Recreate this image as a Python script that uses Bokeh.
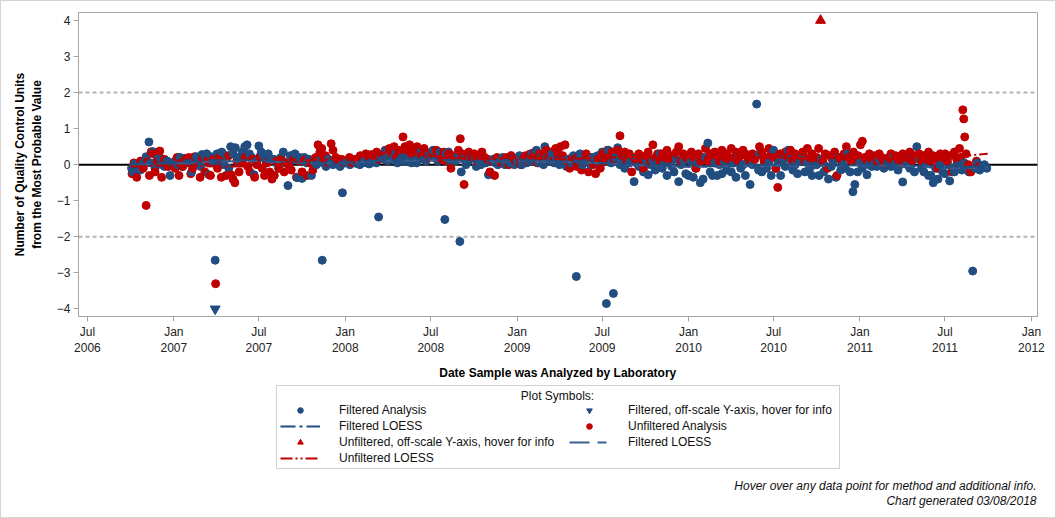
import math
import pandas as pd
from bokeh.plotting import figure
from bokeh.layouts import column
from bokeh.models import (ColumnDataSource, Range1d, FixedTicker, DatetimeTickFormatter,
                          Span, Legend, LegendItem, Label)
from bokeh.embed import file_html
from bokeh.resources import INLINE

BLUE = "#214d80"
BLUE2 = "#3d5f8f"
RED = "#c00000"
FONT = "Liberation Sans"
DASH_F = "15 4 3 4"
DASH_F2 = "20 8 9 8"
DASH_U = "12 3 2 3 2 3"

# ---------------- data ----------------
filtered_dates = [
    "2006-10-03", "2006-10-06", "2006-10-10", "2006-10-16", "2006-10-22", "2006-10-28",
    "2006-11-03", "2006-11-09", "2006-11-12", "2006-11-18", "2006-11-22", "2006-11-27",
    "2006-12-02", "2006-12-07", "2006-12-12", "2006-12-18", "2006-12-24", "2006-12-29",
    "2007-01-04", "2007-01-09", "2007-01-14", "2007-01-19", "2007-01-24", "2007-01-29",
    "2007-02-03", "2007-02-08", "2007-02-13", "2007-02-18", "2007-02-23", "2007-02-27",
    "2007-03-02", "2007-03-07", "2007-03-12", "2007-03-17", "2007-03-22", "2007-03-27", "2007-03-30",
    "2007-04-03", "2007-04-08", "2007-04-13", "2007-04-18", "2007-04-23", "2007-04-28",
    "2007-05-02", "2007-05-07", "2007-05-12", "2007-05-17", "2007-05-22", "2007-05-27",
    "2007-06-01", "2007-06-06", "2007-06-11", "2007-06-16", "2007-06-21", "2007-06-26",
    "2007-07-01", "2007-07-06", "2007-07-11", "2007-07-16", "2007-07-21", "2007-07-27",
    "2007-08-02", "2007-08-07", "2007-08-12", "2007-08-17", "2007-08-22", "2007-08-27",
    "2007-09-01", "2007-09-06", "2007-09-11", "2007-09-16", "2007-09-21", "2007-09-26",
    "2007-10-01", "2007-10-06", "2007-10-11", "2007-10-16", "2007-10-21", "2007-10-26",
    "2007-11-01", "2007-11-06", "2007-11-13", "2007-11-16", "2007-11-21", "2007-11-26",
    "2007-12-01", "2007-12-06", "2007-12-11", "2007-12-16", "2007-12-21", "2007-12-26",
    "2008-01-01", "2008-01-06", "2008-01-11", "2008-01-16", "2008-01-21", "2008-01-26",
    "2008-02-01", "2008-02-06", "2008-02-11", "2008-02-16", "2008-02-21", "2008-02-26",
    "2008-03-02", "2008-03-07", "2008-03-12", "2008-03-17", "2008-03-22", "2008-03-27",
    "2008-04-01", "2008-04-06", "2008-04-11", "2008-04-16", "2008-04-21", "2008-04-26",
    "2008-05-01", "2008-05-06", "2008-05-11", "2008-05-16", "2008-05-21", "2008-05-26",
    "2008-06-01", "2008-06-06", "2008-06-11", "2008-06-16", "2008-06-21", "2008-06-26",
    "2008-07-01", "2008-07-06", "2008-07-11", "2008-07-16", "2008-07-21", "2008-07-31",
    "2008-08-03", "2008-08-08", "2008-08-13", "2008-08-18", "2008-08-23", "2008-08-28",
    "2008-09-01", "2008-09-04", "2008-09-09", "2008-09-14", "2008-09-19", "2008-09-24",
    "2008-10-01", "2008-10-06", "2008-10-11", "2008-10-16", "2008-10-21", "2008-10-26",
    "2008-11-01", "2008-11-06", "2008-11-11", "2008-11-16", "2008-11-21", "2008-11-26",
    "2008-12-01", "2008-12-06", "2008-12-11", "2008-12-16", "2008-12-21", "2008-12-26",
    "2009-01-01", "2009-01-06", "2009-01-11", "2009-01-16", "2009-01-21", "2009-01-26",
    "2009-02-01", "2009-02-06", "2009-02-11", "2009-02-16", "2009-02-21", "2009-02-26",
    "2009-03-01", "2009-03-06", "2009-03-11", "2009-03-16", "2009-03-21", "2009-03-26",
    "2009-04-01", "2009-04-06", "2009-04-11", "2009-04-16", "2009-04-21", "2009-04-26",
    "2009-05-01", "2009-05-07", "2009-05-10", "2009-05-15", "2009-05-20", "2009-05-25",
    "2009-06-01", "2009-06-06", "2009-06-11", "2009-06-16", "2009-06-21", "2009-06-26",
    "2009-07-01", "2009-07-05", "2009-07-10", "2009-07-14", "2009-07-20", "2009-07-25", "2009-07-29",
    "2009-08-03", "2009-08-08", "2009-08-13", "2009-08-18", "2009-08-23", "2009-08-28",
    "2009-09-02", "2009-09-07", "2009-09-12", "2009-09-17", "2009-09-22", "2009-09-27",
    "2009-10-02", "2009-10-07", "2009-10-12", "2009-10-17", "2009-10-22", "2009-10-27",
    "2009-11-01", "2009-11-06", "2009-11-11", "2009-11-16", "2009-11-21", "2009-11-26",
    "2009-12-01", "2009-12-06", "2009-12-11", "2009-12-16", "2009-12-21", "2009-12-26",
    "2010-01-01", "2010-01-06", "2010-01-11", "2010-01-16", "2010-01-21", "2010-01-26",
    "2010-02-01", "2010-02-06", "2010-02-11", "2010-02-16", "2010-02-21", "2010-02-26",
    "2010-03-03", "2010-03-08", "2010-03-13", "2010-03-18", "2010-03-23", "2010-03-28",
    "2010-04-02", "2010-04-07", "2010-04-12", "2010-04-17", "2010-04-22", "2010-04-27",
    "2010-05-02", "2010-05-07", "2010-05-12", "2010-05-17", "2010-05-26", "2010-05-30",
    "2010-06-01", "2010-06-06", "2010-06-11", "2010-06-16", "2010-06-21", "2010-06-26",
    "2010-07-01", "2010-07-06", "2010-07-11", "2010-07-16", "2010-07-21", "2010-07-26",
    "2010-08-01", "2010-08-06", "2010-08-11", "2010-08-16", "2010-08-21", "2010-08-26",
    "2010-09-01", "2010-09-06", "2010-09-11", "2010-09-16", "2010-09-21", "2010-09-26",
    "2010-10-01", "2010-10-06", "2010-10-11", "2010-10-16", "2010-10-21", "2010-10-26",
    "2010-11-01", "2010-11-06", "2010-11-11", "2010-11-16", "2010-11-21", "2010-11-26",
    "2010-12-01", "2010-12-06", "2010-12-11", "2010-12-17", "2010-12-21", "2010-12-27",
    "2011-01-01", "2011-01-06", "2011-01-11", "2011-01-16", "2011-01-21", "2011-01-26",
    "2011-02-01", "2011-02-06", "2011-02-11", "2011-02-16", "2011-02-21", "2011-02-26",
    "2011-03-03", "2011-03-08", "2011-03-13", "2011-03-18", "2011-03-23", "2011-03-28",
    "2011-04-02", "2011-04-07", "2011-04-12", "2011-04-17", "2011-04-22", "2011-04-27",
    "2011-05-02", "2011-05-07", "2011-05-12", "2011-05-17", "2011-05-22", "2011-05-27",
    "2011-06-01", "2011-06-06", "2011-06-11", "2011-06-16", "2011-06-21", "2011-06-26",
    "2011-07-01", "2011-07-06", "2011-07-11", "2011-07-16", "2011-07-21", "2011-07-26",
    "2011-08-01", "2011-08-06", "2011-08-11", "2011-08-16", "2011-08-21", "2011-08-29",
    "2011-09-03", "2011-09-08", "2011-09-13", "2011-09-18", "2011-09-23", "2011-09-28",
]
filtered_values = [
    -0.10, -0.20, 0.02, -0.05, -0.15, 0.05,
    0.22, 0.63, 0.05, 0.36, -0.10, 0.15,
    0.20, 0.00, -0.05, 0.10, -0.30, 0.05,
    0.10, 0.00, 0.20, -0.05, 0.18, 0.05,
    0.05, -0.20, 0.10, 0.22, 0.15, -0.05,
    0.28, 0.25, 0.30, -0.28, 0.22, 0.05, -2.65,
    0.30, 0.10, 0.35, 0.00, 0.25, -0.10,
    0.50, 0.30, 0.47, 0.20, 0.10, 0.35,
    0.50, 0.55, 0.30, 0.20, -0.28, 0.10,
    0.52, 0.35, 0.25, 0.10, 0.30, 0.15,
    0.15, 0.05, -0.10, 0.20, 0.35, 0.05,
    -0.58, 0.25, 0.15, 0.30, -0.36, 0.20,
    -0.38, 0.20, 0.05, 0.15, -0.30, 0.10,
    0.00, 0.10, -2.65, 0.05, -0.05, 0.15,
    0.05, 0.00, 0.10, 0.05, -0.05, -0.78,
    0.05, 0.10, 0.00, 0.05, 0.08, 0.03,
    0.00, 0.05, 0.10, 0.05, 0.02, 0.08,
    0.08, 0.05, -1.45, 0.20, 0.15, 0.40,
    0.10, 0.20, 0.15, 0.30, 0.05, 0.12,
    0.20, 0.10, 0.25, 0.15, 0.05, 0.10,
    0.05, 0.20, 0.35, 0.15, 0.10, 0.25,
    0.30, 0.40, 0.20, 0.10, 0.35, -1.52,
    0.30, 0.35, 0.05, 0.20, 0.10, 0.25,
    -2.13, -0.20, 0.15, 0.00, 0.10, 0.20,
    0.20, -0.05, 0.10, 0.00, 0.15, 0.05,
    -0.28, 0.10, 0.15, 0.05, 0.00, 0.10,
    0.20, 0.00, 0.10, 0.05, 0.15, 0.00,
    0.10, 0.25, 0.00, 0.15, 0.05, 0.10,
    0.30, 0.10, 0.40, 0.05, 0.20, 0.00,
    0.50, 0.20, 0.10, 0.30, 0.05, 0.15,
    0.00, 0.20, 0.10, -0.05, 0.15, 0.05,
    0.25, -3.10, 0.15, 0.30, 0.00, 0.10,
    0.10, 0.00, 0.20, 0.15, 0.25, -0.05,
    0.35, 0.10, -3.85, 0.40, 0.05, -3.57, 0.20,
    0.47, 0.00, 0.20, -0.10, 0.15, 0.05,
    0.10, -0.47, 0.20, -0.05, 0.05, -0.20,
    0.15, -0.28, 0.00, 0.10, -0.15, 0.05,
    0.30, -0.10, 0.05, -0.30, 0.10, -0.05,
    -0.20, 0.15, -0.47, 0.00, 0.10, -0.25,
    -0.30, 0.10, -0.35, -0.10, 0.05, -0.50,
    -0.40, 0.20, 0.60, -0.20, -0.30, 0.05,
    -0.30, 0.00, -0.25, 0.10, -0.15, 0.05,
    -0.20, 0.05, -0.35, 0.20, -0.10, 0.00,
    -0.30, 0.10, -0.55, 0.00, 1.68, -0.15,
    0.30, -0.20, 0.10, -0.10, 0.05, -0.30,
    0.40, -0.10, 0.05, -0.30, 0.15, -0.05,
    0.40, 0.15, -0.15, 0.00, -0.25, 0.10,
    0.30, -0.20, 0.05, -0.10, -0.30, 0.00,
    0.00, -0.30, 0.15, -0.20, -0.05, -0.40,
    -0.05, 0.10, -0.35, 0.20, -0.15, 0.00,
    -0.10, 0.30, -0.20, -0.75, -0.55, -0.20,
    0.05, -0.10, 0.10, -0.28, 0.00, -0.05,
    0.05, -0.05, 0.15, 0.00, -0.10, 0.10,
    0.10, -0.05, 0.20, 0.05, -0.15, 0.00,
    -0.48, 0.10, 0.00, -0.10, 0.15, -0.20,
    0.50, 0.15, -0.10, -0.20, 0.05, -0.30,
    -0.30, -0.50, -0.10, -0.40, 0.00, -0.20,
    -0.25, 0.05, -0.45, -0.10, -0.20, 0.00,
    0.00, -0.15, 0.05, -0.10, -0.20, -2.95,
    -0.10, 0.05, -0.15, -0.05, 0.00, -0.10,
]

unfiltered_dates = [
    "2006-10-04", "2006-10-08", "2006-10-14", "2006-10-22", "2006-10-28",
    "2006-11-03", "2006-11-06", "2006-11-10", "2006-11-14", "2006-11-18", "2006-11-22", "2006-11-27",
    "2006-12-02", "2006-12-06", "2006-12-12", "2006-12-20",
    "2007-01-04", "2007-01-08", "2007-01-12", "2007-01-16", "2007-01-20", "2007-01-26",
    "2007-02-02", "2007-02-06", "2007-02-10", "2007-02-14", "2007-02-20", "2007-02-26",
    "2007-03-03", "2007-03-08", "2007-03-14", "2007-03-20", "2007-03-26", "2007-03-31",
    "2007-04-04", "2007-04-08", "2007-04-12", "2007-04-16", "2007-04-22", "2007-04-28",
    "2007-05-03", "2007-05-07", "2007-05-11", "2007-05-15", "2007-05-20", "2007-05-26",
    "2007-06-02", "2007-06-07", "2007-06-12", "2007-06-17", "2007-06-22", "2007-06-27",
    "2007-07-03", "2007-07-08", "2007-07-13", "2007-07-18", "2007-07-24", "2007-07-29",
    "2007-08-03", "2007-08-08", "2007-08-13", "2007-08-18", "2007-08-24", "2007-08-29",
    "2007-09-03", "2007-09-08", "2007-09-13", "2007-09-19", "2007-09-25",
    "2007-10-01", "2007-10-06", "2007-10-12", "2007-10-18", "2007-10-24", "2007-10-30",
    "2007-11-04", "2007-11-08", "2007-11-12", "2007-11-16", "2007-11-20", "2007-11-26",
    "2007-12-02", "2007-12-06", "2007-12-12", "2007-12-18", "2007-12-24", "2007-12-30",
    "2008-01-05", "2008-01-10", "2008-01-16", "2008-01-22", "2008-01-28",
    "2008-02-02", "2008-02-08", "2008-02-14", "2008-02-20", "2008-02-26",
    "2008-03-03", "2008-03-08", "2008-03-14", "2008-03-20", "2008-03-26", "2008-03-31",
    "2008-04-04", "2008-04-09", "2008-04-14", "2008-04-19", "2008-04-24", "2008-04-29",
    "2008-05-03", "2008-05-07", "2008-05-12", "2008-05-17", "2008-05-22", "2008-05-27",
    "2008-06-02", "2008-06-07", "2008-06-12", "2008-06-17", "2008-06-22", "2008-06-28",
    "2008-07-03", "2008-07-08", "2008-07-13", "2008-07-18", "2008-07-24", "2008-07-29",
    "2008-08-03", "2008-08-08", "2008-08-13", "2008-08-18", "2008-08-24", "2008-08-29",
    "2008-09-02", "2008-09-06", "2008-09-10", "2008-09-15", "2008-09-20", "2008-09-26",
    "2008-10-02", "2008-10-07", "2008-10-12", "2008-10-18", "2008-10-24", "2008-10-30",
    "2008-11-04", "2008-11-09", "2008-11-14", "2008-11-19", "2008-11-24", "2008-11-29",
    "2008-12-04", "2008-12-09", "2008-12-14", "2008-12-19", "2008-12-24", "2008-12-29",
    "2009-01-04", "2009-01-09", "2009-01-14", "2009-01-19", "2009-01-24", "2009-01-29",
    "2009-02-03", "2009-02-08", "2009-02-13", "2009-02-18", "2009-02-23", "2009-02-27",
    "2009-03-04", "2009-03-09", "2009-03-14", "2009-03-19", "2009-03-24", "2009-03-29",
    "2009-04-03", "2009-04-08", "2009-04-13", "2009-04-18", "2009-04-23", "2009-04-28",
    "2009-05-03", "2009-05-08", "2009-05-13", "2009-05-18", "2009-05-23", "2009-05-28",
    "2009-06-02", "2009-06-07", "2009-06-12", "2009-06-17", "2009-06-22", "2009-06-27",
    "2009-07-02", "2009-07-07", "2009-07-12", "2009-07-17", "2009-07-22", "2009-07-27",
    "2009-08-03", "2009-08-08", "2009-08-13", "2009-08-18", "2009-08-23", "2009-08-28",
    "2009-09-02", "2009-09-07", "2009-09-12", "2009-09-17", "2009-09-22", "2009-09-27",
    "2009-10-02", "2009-10-07", "2009-10-12", "2009-10-17", "2009-10-22", "2009-10-27",
    "2009-11-01", "2009-11-06", "2009-11-11", "2009-11-16", "2009-11-21", "2009-11-26",
    "2009-12-01", "2009-12-06", "2009-12-11", "2009-12-16", "2009-12-21", "2009-12-27",
    "2010-01-02", "2010-01-07", "2010-01-12", "2010-01-17", "2010-01-22", "2010-01-27",
    "2010-02-01", "2010-02-06", "2010-02-11", "2010-02-16", "2010-02-21", "2010-02-26",
    "2010-03-03", "2010-03-08", "2010-03-13", "2010-03-18", "2010-03-23", "2010-03-28",
    "2010-04-02", "2010-04-07", "2010-04-12", "2010-04-17", "2010-04-22", "2010-04-27",
    "2010-05-02", "2010-05-07", "2010-05-12", "2010-05-17", "2010-05-22", "2010-05-27",
    "2010-06-01", "2010-06-06", "2010-06-11", "2010-06-16", "2010-06-21", "2010-06-26",
    "2010-07-01", "2010-07-06", "2010-07-10", "2010-07-15", "2010-07-20", "2010-07-26",
    "2010-08-01", "2010-08-06", "2010-08-11", "2010-08-16", "2010-08-21", "2010-08-27",
    "2010-09-01", "2010-09-06", "2010-09-11", "2010-09-16", "2010-09-21", "2010-09-26",
    "2010-10-01", "2010-10-05", "2010-10-14", "2010-10-19", "2010-10-24", "2010-10-29",
    "2010-11-03", "2010-11-08", "2010-11-13", "2010-11-18", "2010-11-23", "2010-11-28",
    "2010-12-03", "2010-12-08", "2010-12-13", "2010-12-18", "2010-12-23", "2010-12-28",
    "2011-01-02", "2011-01-06", "2011-01-11", "2011-01-16", "2011-01-21", "2011-01-26",
    "2011-02-01", "2011-02-06", "2011-02-11", "2011-02-16", "2011-02-21", "2011-02-26",
    "2011-03-03", "2011-03-08", "2011-03-13", "2011-03-18", "2011-03-23", "2011-03-28",
    "2011-04-02", "2011-04-07", "2011-04-12", "2011-04-17", "2011-04-22", "2011-04-27",
    "2011-05-02", "2011-05-07", "2011-05-12", "2011-05-17", "2011-05-22", "2011-05-27",
    "2011-06-01", "2011-06-06", "2011-06-11", "2011-06-16", "2011-06-21", "2011-06-26",
    "2011-07-01", "2011-07-06", "2011-07-11", "2011-07-16", "2011-07-21", "2011-07-26",
    "2011-08-01", "2011-08-04", "2011-08-08", "2011-08-10", "2011-08-12", "2011-08-15", "2011-08-20", "2011-08-25",
    "2011-09-01", "2011-09-06", "2011-09-12",
]
unfiltered_values = [
    -0.25, 0.05, -0.35, 0.10, -0.10,
    -1.13, 0.08, -0.30, 0.36, 0.30, -0.20, 0.10,
    0.38, -0.35, 0.15, -0.05,
    -0.10, 0.20, -0.30, 0.05, -0.05, 0.15,
    0.20, -0.25, -0.10, 0.22, 0.00, -0.35,
    0.18, -0.20, 0.10, -0.30, 0.15, -3.30,
    -0.10, 0.20, -0.35, 0.05, -0.30, 0.25,
    -0.28, -0.40, -0.50, 0.10, -0.20, 0.05,
    0.20, -0.05, -0.20, 0.15, -0.35, 0.00,
    0.22, -0.10, -0.30, 0.05, -0.20, -0.40,
    -0.30, 0.10, -0.10, 0.15, -0.20, 0.05,
    0.00, -0.15, 0.15, -0.35, 0.10,
    -0.20, 0.12, -0.30, 0.05, -0.15, 0.20,
    0.55, 0.35, 0.45, 0.15, 0.25, 0.05,
    0.58, 0.40, 0.20, 0.10, 0.15, 0.05,
    0.10, 0.20, 0.05, 0.15, 0.10,
    0.25, 0.15, 0.30, 0.20, 0.28,
    0.20, 0.35, 0.15, 0.25, 0.40, 0.10,
    0.45, 0.30, 0.50, 0.20, 0.40, 0.35,
    0.77, 0.50, 0.40, 0.55, 0.30, 0.45,
    0.50, 0.35, 0.25, 0.45, 0.30, 0.20,
    0.35, 0.20, 0.40, 0.30, 0.15, 0.35,
    0.10, 0.30, -0.10, 0.25, 0.20, 0.40,
    0.72, 0.30, -0.55, 0.15, 0.35, 0.20,
    0.30, 0.10, 0.25, 0.35, 0.20, 0.15,
    -0.20, 0.10, -0.30, 0.20, 0.15, 0.05,
    0.10, 0.20, 0.00, 0.25, 0.15, 0.10,
    0.20, 0.00, 0.15, 0.25, 0.10, 0.30,
    0.20, 0.35, 0.05, 0.30, 0.15, 0.25,
    0.40, 0.20, 0.35, 0.10, 0.45, 0.30,
    0.50, 0.25, 0.55, 0.10, -0.10, 0.20,
    0.15, -0.05, 0.25, -0.15, 0.10, 0.30,
    -0.20, 0.20, 0.00, -0.25, 0.15, -0.10,
    0.30, 0.10, 0.40, 0.20, 0.35, 0.15,
    0.40, 0.80, 0.25, 0.35, 0.10, 0.30,
    -0.20, 0.20, 0.05, 0.30, 0.15, -0.10,
    0.25, 0.35, 0.10, 0.55, 0.20, 0.30,
    0.10, 0.30, 0.20, 0.40, 0.15, 0.25,
    0.20, 0.35, 0.50, 0.10, 0.30, 0.20,
    0.15, 0.35, 0.20, -0.10, 0.30, 0.10,
    0.20, 0.45, 0.10, 0.30, 0.20, 0.35,
    0.25, 0.10, 0.40, 0.20, 0.30, 0.15,
    0.45, 0.20, 0.35, 0.10, 0.25, 0.40,
    0.30, 0.20, 0.10, 0.30, 0.15, 0.25,
    0.50, 0.35, 0.10, 0.20, 0.45, 0.30,
    0.20, -0.10, -0.63, 0.30, 0.15, 0.35,
    0.20, 0.40, 0.10, 0.30, 0.15, 0.25,
    0.35, 0.10, 0.45, 0.20, 0.30, 0.15,
    0.20, 0.45, 0.10, 0.30, -0.10, 0.25,
    0.15, 0.35, -0.30, 0.20, 0.10, 0.30,
    0.50, 0.20, 0.10, 0.35, 0.15, 0.25,
    0.55, 0.65, 0.20, 0.10, 0.30, 0.15,
    0.25, 0.10, 0.30, 0.20, 0.05, 0.15,
    0.20, 0.30, 0.10, 0.25, 0.15, 0.05,
    0.30, 0.15, 0.20, 0.35, 0.10, 0.25,
    0.20, 0.30, 0.10, 0.25, 0.15, 0.35,
    0.10, 0.25, 0.15, -0.10, 0.30, 0.20,
    0.30, 0.10, 0.25, -0.20, 0.35, 0.15,
    0.45, 0.20, 1.52, 1.27, 0.77, 0.30, 0.00, -0.20,
    -0.10, 0.10, -0.05,
]

# off-scale points (drawn at the axis limit)
filtered_offscale_dates = ["2007-03-30"]
filtered_offscale_values = [-4.0]
unfiltered_offscale_dates = ["2010-10-09"]
unfiltered_offscale_values = [4.0]

# LOESS smooths
loess_dates = ["2006-10-01", "2007-01-01", "2007-04-01", "2007-07-01", "2007-10-01",
               "2008-01-01", "2008-04-01", "2008-07-01", "2008-10-01", "2009-01-01",
               "2009-04-01", "2009-07-01", "2009-10-01", "2010-01-01", "2010-04-01",
               "2010-07-01", "2010-10-01", "2011-01-01", "2011-04-01", "2011-07-01",
               "2011-09-30"]
filtered_loess = [0.02, 0.05, 0.12, 0.12, 0.05, 0.06, 0.12, 0.15, 0.08, 0.12, 0.10,
                  0.05, 0.00, -0.05, -0.04, 0.00, -0.02, 0.00, 0.00, -0.08, -0.05]
filtered_loess2 = [0.00, 0.03, 0.09, 0.10, 0.04, 0.05, 0.10, 0.12, 0.07, 0.10, 0.08,
                   0.04, -0.02, -0.06, -0.05, -0.02, -0.04, -0.02, -0.03, -0.10, -0.08]
unfiltered_loess = [-0.05, -0.02, -0.05, -0.05, 0.10, 0.20, 0.35, 0.25, 0.15, 0.20,
                    0.15, 0.20, 0.22, 0.20, 0.22, 0.20, 0.18, 0.20, 0.18, 0.20, 0.30]

x_tick_dates = ["2006-07-01", "2007-01-01", "2007-07-01", "2008-01-01", "2008-07-01",
                "2009-01-01", "2009-07-01", "2010-01-01", "2010-07-01", "2011-01-01",
                "2011-07-01", "2012-01-01"]
y_ticks = [-4, -3, -2, -1, 0, 1, 2, 3, 4]
control_limits = [-2, 2]

# ---------------- build sources ----------------
pts = pd.concat([
    pd.DataFrame({"date": pd.to_datetime(filtered_dates), "value": filtered_values,
                  "color": BLUE}),
    pd.DataFrame({"date": pd.to_datetime(unfiltered_dates), "value": unfiltered_values,
                  "color": RED}),
]).sort_values("date", kind="stable").reset_index(drop=True)
src_pts = ColumnDataSource(pts)


def ms(d):
    return pd.Timestamp(d).value / 1e6


# ---------------- main chart ----------------
p = figure(width=1054, height=382, x_axis_type="datetime",
           output_backend="svg", toolbar_location=None,
           x_range=Range1d(pd.Timestamp("2006-06-12"), pd.Timestamp("2012-01-14")),
           y_range=Range1d(-4.21, 4.22),
           min_border_left=77, min_border_right=18, min_border_top=11,
           min_border_bottom=65)
p.background_fill_color = "white"
p.border_fill_color = "white"
p.outline_line_color = "#a6a6a6"
p.outline_line_width = 1
p.grid.visible = False

for lim in control_limits:
    p.add_layout(Span(location=lim, dimension="width", line_color="#b4b4b4",
                      line_width=2, line_dash="4 3", level="underlay"))
p.add_layout(Span(location=0, dimension="width", line_color="black",
                  line_width=2, level="underlay"))

p.scatter("date", "value", source=src_pts, marker="circle", size=8,
          fill_color="color", line_color="color")
p.scatter(pd.to_datetime(filtered_offscale_dates), filtered_offscale_values,
          marker="inverted_triangle", size=10, fill_color=BLUE, line_color=BLUE)
p.scatter(pd.to_datetime(unfiltered_offscale_dates), unfiltered_offscale_values,
          marker="triangle", size=10, fill_color=RED, line_color=RED)
ld = pd.to_datetime(loess_dates)
p.line(ld, filtered_loess2, line_color=BLUE2, line_width=2, line_dash=DASH_F2)
p.line(ld, filtered_loess, line_color=BLUE, line_width=2, line_dash=DASH_F)
p.line(ld, unfiltered_loess, line_color=RED, line_width=2, line_dash=DASH_U)

xa = p.xaxis[0]
xa.ticker = FixedTicker(ticks=[ms(d) for d in x_tick_dates])
fmt = "%b\n%Y"
xa.formatter = DatetimeTickFormatter(milliseconds=fmt, seconds=fmt, minsec=fmt,
                                     minutes=fmt, hourmin=fmt, hours=fmt, days=fmt,
                                     months=fmt, years=fmt)
xa.axis_label = "Date Sample was Analyzed by Laboratory"
xa.axis_label_standoff = 8
ya = p.yaxis[0]
ya.ticker = FixedTicker(ticks=y_ticks)
ya.axis_label = "Number of Quality Control Units\nfrom the Most Probable Value"
ya.axis_label_standoff = 10
for ax in (xa, ya):
    ax.axis_line_color = "#a6a6a6"
    ax.major_tick_line_color = "#a6a6a6"
    ax.major_tick_out = 5
    ax.major_tick_in = 0
    ax.minor_tick_line_color = None
    ax.major_label_text_font = FONT
    ax.major_label_text_font_size = "12px"
    ax.major_label_text_color = "#222222"
    ax.major_label_standoff = 3
    ax.axis_label_text_font = FONT
    ax.axis_label_text_font_size = "12px"
    ax.axis_label_text_font_style = "bold"
    ax.axis_label_text_color = "black"

# ---------------- legend / footnote strip ----------------
# (its frame is aligned by the column layout with the chart's frame above)
q = figure(width=1054, height=134, output_backend="svg", toolbar_location=None,
           x_range=Range1d(0, 1), y_range=Range1d(0, 1),
           x_axis_location=None, y_axis_location=None, min_border=0)
q.outline_line_color = None
q.grid.visible = False
q.background_fill_color = "white"
q.border_fill_color = "white"

NAN = [math.nan]
# legend proxies: symbol styles only, nothing visible in the strip
k_fc = q.scatter(NAN, NAN, marker="circle", size=7, fill_color=BLUE, line_color=BLUE)
k_ft = q.scatter(NAN, NAN, marker="inverted_triangle", size=9, fill_color=BLUE, line_color=BLUE)
k_fl = q.line(NAN, NAN, line_color=BLUE, line_width=2, line_dash=DASH_F)
k_uc = q.scatter(NAN, NAN, marker="circle", size=7, fill_color=RED, line_color=RED)
k_ut = q.scatter(NAN, NAN, marker="triangle", size=9, fill_color=RED, line_color=RED)
k_fl2 = q.line(NAN, NAN, line_color=BLUE2, line_width=2, line_dash=DASH_F2)
k_ul = q.line(NAN, NAN, line_color=RED, line_width=2, line_dash=DASH_U)

common = dict(title=" ", title_text_font_size="9px", title_standoff=4,
              padding=3, spacing=2, margin=0, orientation="vertical",
              label_height=14, glyph_height=14, glyph_width=40, label_standoff=19,
              label_text_font=FONT, label_text_font_size="12px",
              label_text_color="#111111", background_fill_alpha=0.0)

legend_left = Legend(items=[
    LegendItem(label="Filtered Analysis", renderers=[k_fc]),
    LegendItem(label="Filtered LOESS", renderers=[k_fl]),
    LegendItem(label="Unfiltered, off-scale Y-axis, hover for info", renderers=[k_ut]),
    LegendItem(label="Unfiltered LOESS", renderers=[k_ul]),
], location=(198, 48), label_width=497,
    border_line_color="#a6a6a6", border_line_width=1, **common)
legend_right = Legend(items=[
    LegendItem(label="Filtered, off-scale Y-axis, hover for info", renderers=[k_ft]),
    LegendItem(label="Unfiltered Analysis", renderers=[k_uc]),
    LegendItem(label="Filtered LOESS", renderers=[k_fl2]),
], location=(491, 68), border_line_color=None, **common)
q.add_layout(legend_left)
q.add_layout(legend_right)

q.add_layout(Label(x=479, y=122, x_units="screen", y_units="screen",
                   text="Plot Symbols:", text_align="center", text_baseline="middle",
                   text_font=FONT, text_font_size="12px", text_color="#111111"))
q.add_layout(Label(x=958, y=32, x_units="screen", y_units="screen",
                   text="Hover over any data point for method and additional info.",
                   text_align="right", text_baseline="middle", text_font=FONT,
                   text_font_size="12px", text_font_style="italic", text_color="#111111"))
q.add_layout(Label(x=958, y=17, x_units="screen", y_units="screen",
                   text="Chart generated 03/08/2018",
                   text_align="right", text_baseline="middle", text_font=FONT,
                   text_font_size="12px", text_font_style="italic", text_color="#111111"))

page = column(p, q, spacing=0, styles={"border": "1px solid #d4d4d4"})

open("out.html", "w").write(file_html(page, INLINE))
